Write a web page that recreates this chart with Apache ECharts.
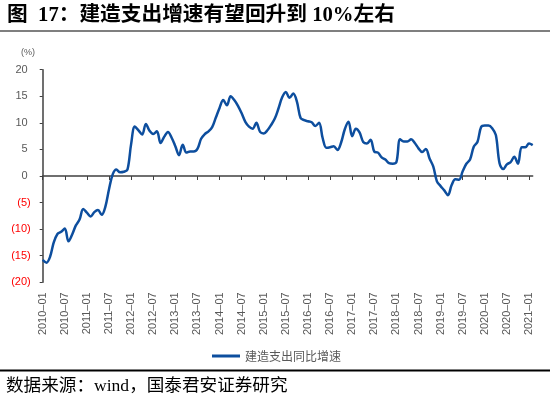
<!DOCTYPE html>
<html>
<head>
<meta charset="utf-8">
<script src="https://cdn.jsdelivr.net/npm/echarts@6/dist/echarts.min.js"></script>
<style>
html,body{margin:0;padding:0;background:#fff;}
#chart{width:550px;height:401px;}
</style>
</head>
<body>
<div id="chart"></div>
<script>
// Month categories 2010-01 .. 2021-02
var months = [];
for (var yr = 2010; yr <= 2021; yr++) {
  for (var mo = 1; mo <= 12; mo++) {
    if (yr === 2021 && mo > 2) break;
    months.push(yr + '-' + (mo < 10 ? '0' + mo : '' + mo));
  }
}

// 建造支出同比增速 (%)
var constructionYoY = [
  -15.8, -16.3, -15.2, -12.5, -10.9, -10.5, -9.9, -12.3, -11.0, -9.3, -8.2, -6.2,
  -6.9, -7.6, -6.8, -6.4, -7.3, -5.8, -2.5, 0.3, 1.2, 0.7, 0.8, 1.2,
  6.0, 9.3, 8.6, 7.8, 9.8, 8.5, 7.9, 8.4, 6.2, 7.4, 8.3, 7.2,
  5.6, 3.9, 5.9, 4.4, 4.6, 4.6, 5.1, 7.0, 7.9, 8.4, 9.2, 11.0,
  12.8, 14.3, 13.3, 15.0, 14.3, 13.2, 11.8, 10.2, 9.3, 8.9, 10.0, 8.3,
  8.0, 8.6, 9.6, 10.8, 12.7, 14.8, 15.8, 14.7, 15.5, 14.0, 10.9, 10.5,
  10.3, 10.1, 9.4, 10.0, 7.1, 5.3, 5.4, 5.6, 4.9, 6.3, 8.8, 10.2,
  7.5, 8.9, 8.2, 6.4, 6.1, 6.8, 4.6, 4.4, 3.5, 3.1, 2.4, 2.3,
  2.6, 6.9, 6.5, 6.5, 6.9, 6.2, 5.2, 4.5, 5.1, 3.3, 1.8, -1.0,
  -1.9, -2.7, -3.6, -1.7, -0.6, -0.7, 0.9, 2.3, 3.1, 5.5, 6.4, 9.2,
  9.5, 9.5, 9.0, 7.7, 2.4, 1.3, 2.2, 2.6, 3.6, 2.3, 5.4, 5.4,
  6.1, 5.8
];

var yTicks = [-20, -15, -10, -5, 0, 5, 10, 15, 20];
var seriesName = '建造支出同比增速';
var titleText = '图  17：建造支出增速有望回升到 10%左右';
var sourceText = '数据来源：wind，国泰君安证券研究';
var unitText = '(%)';

var chart = echarts.init(document.getElementById('chart'));
var lineColor = '#0D4E9E';
var gray = '#595959';

chart.setOption({
  backgroundColor: '#fff',
  animation: false,
  grid: { left: 42.7, right: 17.3, top: 69.7, bottom: 118.7 },
  xAxis: [
    {
      type: 'category',
      data: months,
      boundaryGap: false,
      position: 'bottom',
      axisLine: { show: true, onZero: true, lineStyle: { color: '#404040', width: 1.5 } },
      axisTick: { show: true, interval: 5, length: 4, lineStyle: { color: '#404040', width: 1 } },
      axisLabel: { show: false },
      splitLine: { show: false }
    },
    {
      type: 'category',
      data: months,
      boundaryGap: false,
      position: 'bottom',
      offset: 0,
      axisLine: { show: false, onZero: false },
      axisTick: { show: false },
      axisLabel: {
        show: true, interval: 5, rotate: 90, margin: 10,
        color: gray, fontSize: 11, fontFamily: 'Liberation Sans, Arial, sans-serif',
        formatter: function (v) { return v.replace('-', '\u2013'); }
      },
      splitLine: { show: false }
    }
  ],
  yAxis: {
    type: 'value',
    min: yTicks[0], max: yTicks[yTicks.length - 1], interval: 5,
    axisLine: { show: true, lineStyle: { color: '#404040', width: 1.5 } },
    axisTick: { show: true, length: 3, lineStyle: { color: '#404040' } },
    splitLine: { show: false },
    axisLabel: {
      margin: 12,
      fontSize: 11, fontFamily: 'Liberation Sans, Arial, sans-serif',
      formatter: function (v) {
        return v < 0 ? '{n|(' + Math.abs(v) + ')}' : '{p|' + v + ' }';
      },
      rich: {
        n: { color: '#FF0000', fontSize: 11, fontFamily: 'Liberation Sans, Arial, sans-serif' },
        p: { color: gray, fontSize: 11, fontFamily: 'Liberation Sans, Arial, sans-serif' }
      }
    }
  },
  legend: {
    left: 207, top: 345,
    icon: 'rect', itemWidth: 28, itemHeight: 3,
    textStyle: { color: gray, fontSize: 12, fontFamily: 'Noto Sans CJK SC' },
    data: [seriesName]
  },
  series: [{
    name: seriesName,
    type: 'line',
    xAxisIndex: 0,
    data: constructionYoY,
    smooth: 0.35,
    showSymbol: false,
    lineStyle: { color: lineColor, width: 2.5 },
    itemStyle: { color: lineColor }
  }],
  graphic: [
    { type: 'text', left: 7, top: 5,
      style: { text: titleText, fill: '#000', font: 'bold 20.7px "Liberation Serif", "Noto Sans CJK SC"' } },
    { type: 'line', shape: { x1: 0, y1: 31, x2: 550, y2: 31 }, style: { stroke: '#000', lineWidth: 1.2 } },
    { type: 'text', left: 21, top: 48,
      style: { text: unitText, fill: gray, font: '9px "Liberation Sans", Arial' } },
    { type: 'line', shape: { x1: 0, y1: 370.5, x2: 550, y2: 370.5 }, style: { stroke: '#000', lineWidth: 1.8 } },
    { type: 'text', left: 6, top: 378,
      style: { text: sourceText, fill: '#000', font: '17.6px "Liberation Serif", "Noto Sans CJK SC"' } }
  ]
});
</script>
</body>
</html>
